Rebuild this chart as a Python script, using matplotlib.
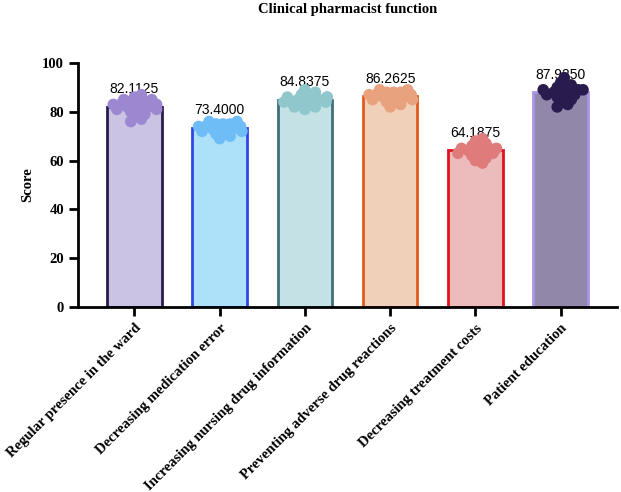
import numpy as np
import matplotlib
matplotlib.use("Agg")
import matplotlib.pyplot as plt

# Daten
categories = [
    "Regular presence in the ward",
    "Decreasing medication error",
    "Increasing nursing drug information",
    "Preventing adverse drug reactions",
    "Decreasing treatment costs",
    "Patient education",
]
means = [82.1125, 73.4000, 84.8375, 86.2625, 64.1875, 87.9250]

# individual scores (read roughly off the dot clouds)
scores = [
    [76, 77, 78, 79, 80, 80, 81, 81, 82, 82, 82, 82, 83, 83, 83, 83, 84, 84, 84, 85, 85, 86, 87],
    [69, 70, 71, 71, 72, 72, 73, 73, 73, 73, 74, 74, 74, 75, 75, 75, 76, 76],
    [81, 82, 82, 83, 83, 84, 84, 84, 85, 85, 85, 85, 86, 86, 86, 87, 87, 88, 89],
    [82, 83, 84, 84, 85, 85, 86, 86, 86, 86, 87, 87, 87, 88, 88, 88, 89, 89],
    [59, 60, 61, 62, 62, 63, 63, 64, 64, 64, 65, 65, 65, 66, 66, 67, 68, 69],
    [82, 83, 84, 85, 86, 86, 87, 87, 88, 88, 88, 89, 89, 89, 90, 90, 91, 92, 94],
]

fill_colors = ["#cbc3e4", "#ade0f9", "#c4e2e5", "#f1d0ba", "#ecbcbd", "#9087a9"]
edge_colors = ["#2b1b4f", "#2f46e6", "#3f7079", "#e4581b", "#e2121d", "#a994e6"]
dot_colors = ["#9c88d0", "#6fbdf6", "#8fc7cd", "#e8a37e", "#df7b7b", "#2a1b4f"]

serif = "Liberation Serif"
sans = "Liberation Sans"

BAR_W = 0.64


def swarm_offsets(ax, xc, vals, dot_px):
    # dichter beeswarm, bleibt innerhalb der Balkenbreite
    placed = []
    offs = []
    fwd = ax.transData.transform
    inv = ax.transData.inverted()
    half = (fwd((xc + BAR_W / 2, 0))[0] - fwd((xc, 0))[0]) - dot_px / 2
    step = dot_px * 0.35
    for v in vals:
        cx, py = fwd((xc, v))
        k = 0
        done = False
        while not done:
            for s in ([0] if k == 0 else [k, -k]):
                dx = max(-half, min(half, s * step))
                px = cx + dx
                ok = all((px - qx) ** 2 + (py - qy) ** 2 >= (dot_px * 0.5) ** 2 for qx, qy in placed)
                if ok or k * step > half:
                    placed.append((px, py))
                    offs.append(inv.transform((px, py))[0])
                    done = True
                    break
            k += 1
    return offs


fig = plt.figure(figsize=(6.21, 4.92), dpi=100)
ax = fig.add_axes([0.1256, 0.376, 0.868, 0.496])

x = np.arange(len(categories))
ax.set_xlim(-0.66, 5.66)
ax.set_ylim(0, 100)

ax.bar(x, means, width=BAR_W, color=fill_colors, edgecolor=edge_colors, linewidth=2, zorder=2)

for i in range(len(categories)):
    ax.text(x[i], means[i] + 7.2, f"{means[i]:.4f}", ha="center", va="center",
            fontsize=10, family=sans, zorder=3)
    vals = sorted(scores[i], key=lambda v: abs(v - means[i]))
    xs = swarm_offsets(ax, x[i], vals, 10)
    ax.scatter(xs, vals, s=70, color=dot_colors[i], edgecolor="none", zorder=4, clip_on=False)

ax.set_yticks([0, 20, 40, 60, 80, 100])
ax.set_xticks(x)
ax.set_xticklabels(categories, rotation=45, ha="right", rotation_mode="anchor",
                   fontsize=10.5, fontweight="bold", family=serif)
for lab in ax.get_yticklabels():
    lab.set_fontfamily(serif)
    lab.set_fontweight("bold")
    lab.set_fontsize(10.5)

ax.set_ylabel("Score", fontsize=10.5, fontweight="bold", family=serif, labelpad=6)
ax.set_title("Clinical pharmacist function", fontsize=10.5, fontweight="bold",
             family=serif, pad=36)

ax.spines["top"].set_visible(False)
ax.spines["right"].set_visible(False)
ax.spines["left"].set_linewidth(2)
ax.spines["bottom"].set_linewidth(2)
ax.tick_params(axis="both", direction="out", length=6.5, width=2)
ax.tick_params(axis="x", pad=4)

fig.savefig("out.png", dpi=100)
